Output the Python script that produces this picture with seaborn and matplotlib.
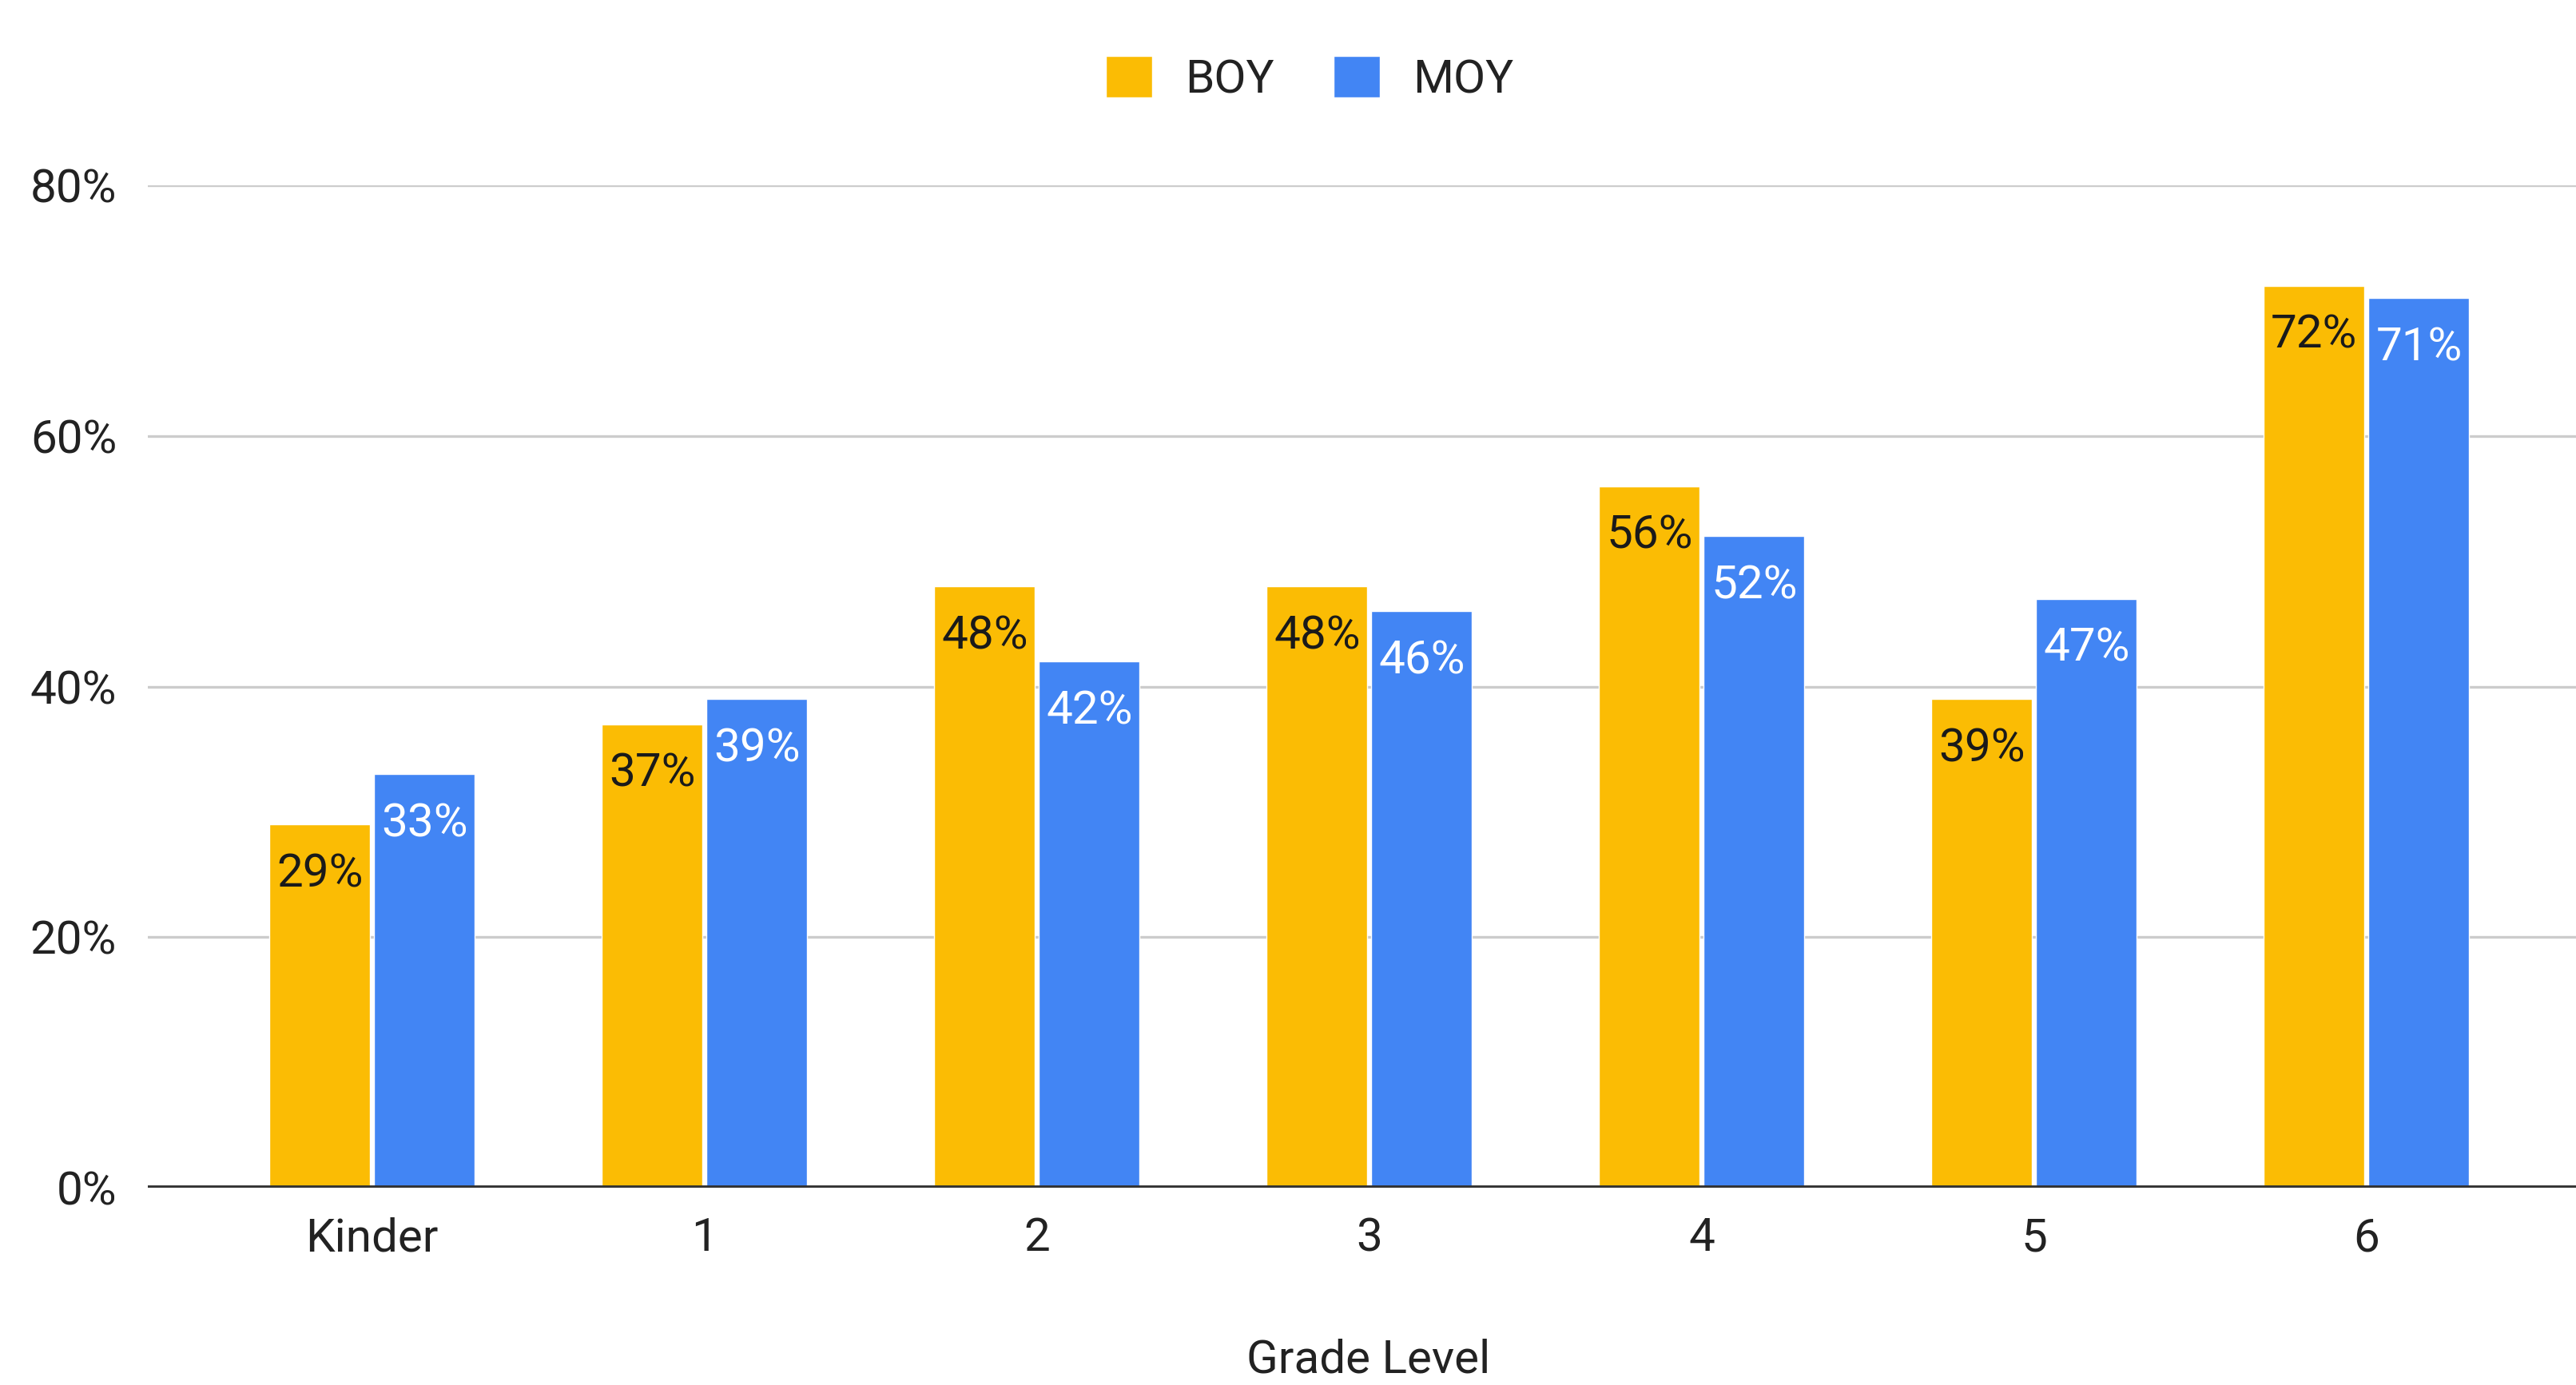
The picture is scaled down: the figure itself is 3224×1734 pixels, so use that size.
import pandas as pd
import matplotlib
matplotlib.use("Agg")
import matplotlib.pyplot as plt
from matplotlib.ticker import FuncFormatter
import seaborn as sns

# Data
grades = ["Kinder", "1", "2", "3", "4", "5", "6"]
boy = [29, 37, 48, 48, 56, 39, 72]
moy = [33, 39, 42, 46, 52, 47, 71]
periods = ["BOY", "MOY"]
colors = ["#FBBC04", "#4285F4"]
label_colors = ["#1a1a1a", "#ffffff"]

df = pd.DataFrame({
    "grade": grades * 2,
    "pct": boy + moy,
    "period": ["BOY"] * len(grades) + ["MOY"] * len(grades),
})

sns.set_theme(style="white")
plt.rcParams["font.family"] = ["Roboto", "DejaVu Sans"]
FS = 42
TXT = "#222222"

fig = plt.figure(figsize=(32.24, 17.34), dpi=100)
ax = fig.add_axes([185 / 3224, 0.1424, (3241 - 185) / 3224, 0.7238])

sns.barplot(data=df, x="grade", y="pct", hue="period", order=grades,
            hue_order=periods, palette=colors, saturation=1,
            width=0.63, gap=0.04, ax=ax, zorder=3)

ax.set_ylim(0, 80)
ax.set_xlim(-0.675, 6.671)
ax.set_yticks([0, 20, 40, 60, 80])
ax.yaxis.set_major_formatter(FuncFormatter(lambda v, p: f"{v:.0f}%"))
ax.grid(axis="y", color="#cccccc", linewidth=2.4, zorder=0)
ax.grid(axis="x", visible=False)
ax.axhline(0, color="#333333", linewidth=4.2, zorder=4)
for s in ax.spines.values():
    s.set_visible(False)

ax.tick_params(axis="y", length=0, pad=28, labelsize=FS, labelcolor=TXT)
ax.tick_params(axis="x", length=0, pad=26, labelsize=FS, labelcolor=TXT)
ax.set_ylabel("")
ax.set_xlabel("Grade Level", fontsize=FS, color=TXT, labelpad=70)

# value labels inside the top of each bar
for cont, vals, tc in zip(ax.containers, [boy, moy], label_colors):
    for patch, v in zip(cont.patches, vals):
        ax.annotate(f"{v}%", (patch.get_x() + patch.get_width() / 2, patch.get_height()),
                    xytext=(0, -45), textcoords="offset points",
                    ha="center", va="center", fontsize=FS, color=tc, zorder=5)

ax.legend_.remove()
handles, labels = ax.get_legend_handles_labels()
fig.legend(handles, labels, loc="center", bbox_to_anchor=(1639 / 3224, 1 - 99 / 1734),
           ncol=2, frameon=False, fontsize=FS, handlelength=1.0, handleheight=1.0,
           handletextpad=0.7, columnspacing=1.27, labelcolor=TXT)

fig.savefig("out.png", dpi=100)
